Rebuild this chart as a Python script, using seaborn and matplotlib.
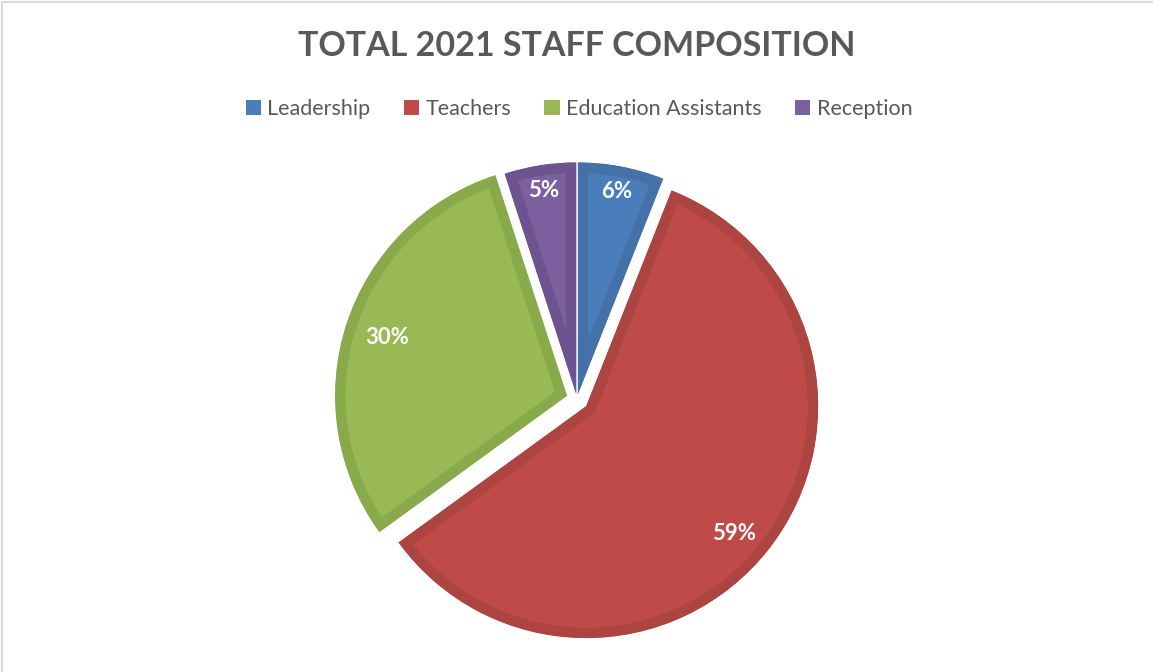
import matplotlib
matplotlib.use("Agg")
import matplotlib.pyplot as plt
from matplotlib.patches import Patch, Rectangle
import numpy as np
import seaborn as sns

categories = ["Leadership", "Teachers", "Education Assistants", "Reception"]
values = [6, 59, 30, 5]
colors = ["#4A7EBB", "#BE4B48", "#98B954", "#7D60A0"]
edge_colors = ["#4471A8", "#AC4441", "#89AA4A", "#6E5391"]
title = "TOTAL 2021 STAFF COMPOSITION"

sns.set_theme(style="white")
plt.rcParams["font.family"] = ["Lato", "DejaVu Sans"]

W, H = 1153, 672
fig = plt.figure(figsize=(W / 100, H / 100), dpi=100)
fig.patch.set_facecolor("white")
ax = fig.add_axes([0, 0, 1, 1])

R = 232
explode_frac = [0.02, 0.05, 0.045, 0.02]
label_frac = [0.89, 0.84, 0.815, 0.89]
label_rot = [0, -3, 0, 0]

wedges, texts, autotexts = ax.pie(
    values, colors=colors, startangle=90, counterclock=False,
    radius=R, center=(577, H - 399),
    explode=[e * R for e in explode_frac],
    autopct="%1.0f%%", pctdistance=0.86,
    textprops=dict(color="white", fontsize=16, fontweight="bold"),
    frame=True,
)
ax.set_xlim(0, W)
ax.set_ylim(0, H)
ax.set_aspect("equal")
ax.axis("off")

for w, ec, at, lf, lr in zip(wedges, edge_colors, autotexts, label_frac, label_rot):
    w.set_edgecolor(ec)
    w.set_linewidth(15)
    w.set_clip_on(True)
    w.set_clip_path(w)
    tm = np.deg2rad((w.theta1 + w.theta2) / 2 + lr)
    cx, cy = w.center
    at.set_position((cx + lf * w.r * np.cos(tm), cy + lf * w.r * np.sin(tm)))
    at.set_ha("center")
    at.set_va("center")

fig.text(577 / W, 1 - 46 / H, title, ha="center", va="center",
         fontsize=24.5, fontweight="bold", color="#595959")

handles = [Patch(facecolor=c, edgecolor="none") for c in colors]
fig.legend(handles, categories, loc="center", bbox_to_anchor=(579 / W, 1 - 109 / H),
           ncol=4, frameon=False, fontsize=15.5, labelcolor="#595959",
           handlelength=0.7, handleheight=0.7, handletextpad=0.3,
           columnspacing=1.55)

# outer frame lines (left and top)
fig.add_artist(Rectangle((1.5 / W, -0.1), 2, 1.1 - 1.5 / H, transform=fig.transFigure,
                         fill=False, edgecolor="#D9D9D9", linewidth=1.5))

fig.savefig("out.png", dpi=100, facecolor="white")
